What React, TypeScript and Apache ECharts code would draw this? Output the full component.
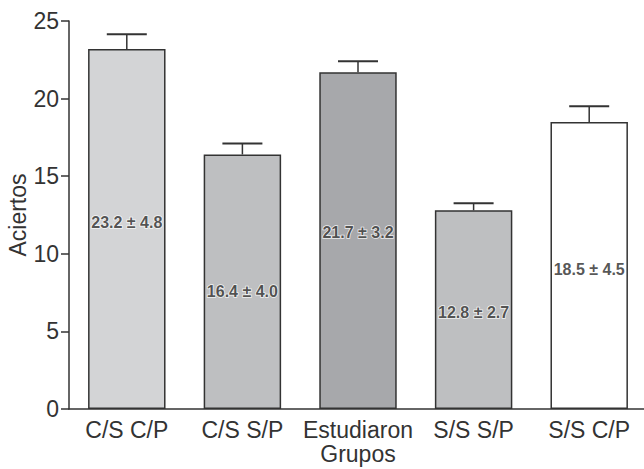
import React, { useEffect, useRef } from "react";
import * as echarts from "echarts";

const categories = ["C/S C/P", "C/S S/P", "Estudiaron", "S/S S/P", "S/S C/P"];
const means = [23.2, 16.4, 21.7, 12.8, 18.5];
const sds = [4.8, 4.0, 3.2, 2.7, 4.5];
const errs = [0.95, 0.7, 0.7, 0.45, 1.0];
const labelPos = [12.0, 7.6, 11.4, 6.2, 9.0];
const barColors = ["#d3d4d6", "#bebfc1", "#a7a8ab", "#bebfc1", "#ffffff"];
const yTicks = [0, 5, 10, 15, 20, 25];

const FONT = "'Liberation Sans', Arial, Helvetica, sans-serif";
const INK = "#333333";

export default function App() {
  const ref = useRef<HTMLDivElement>(null);
  useEffect(() => {
    if (!ref.current) return;
    const chart = echarts.init(ref.current, null, { renderer: "svg" });
    chart.setOption({
      animation: false,
      backgroundColor: "#ffffff",
      textStyle: { fontFamily: FONT },
      grid: {
        left: 69,
        top: 21,
        width: 578,
        height: 388,
        containLabel: false,
        outerBoundsMode: "none",
      },
      xAxis: {
        type: "category",
        data: categories,
        name: "Grupos",
        nameLocation: "middle",
        nameGap: 33,
        nameMoveOverlap: false,
        nameTextStyle: { fontSize: 23, color: INK, fontFamily: FONT },
        axisLine: { lineStyle: { color: INK, width: 1.5 } },
        axisTick: { alignWithLabel: true, length: 6, lineStyle: { color: INK, width: 1.5 } },
        axisLabel: { interval: 0, fontSize: 23, color: INK, margin: 9, fontFamily: FONT },
      },
      yAxis: {
        type: "value",
        min: yTicks[0],
        max: yTicks[yTicks.length - 1],
        interval: 5,
        name: "Aciertos",
        nameLocation: "middle",
        nameGap: 40,
        nameMoveOverlap: false,
        nameTextStyle: { fontSize: 23, color: INK, fontFamily: FONT },
        axisLine: { show: true, lineStyle: { color: INK, width: 1.5 } },
        axisTick: { show: true, length: 8, lineStyle: { color: INK, width: 1.5 } },
        axisLabel: { fontSize: 23, color: INK, margin: 10, fontFamily: FONT },
        splitLine: { show: false },
      },
      series: [
        {
          type: "bar",
          barCategoryGap: "33%",
          data: means.map((v, i) => ({
            value: v,
            itemStyle: { color: barColors[i], borderColor: INK, borderWidth: 1.5 },
          })),
          z: 2,
        },
        {
          type: "custom",
          data: means.map((v, i) => [i, v, errs[i]]),
          renderItem: (params: any, api: any) => {
            const x = api.value(0);
            const y = api.value(1);
            const e = api.value(2);
            const base = api.coord([x, y]);
            const top = api.coord([x, y + e]);
            return {
              type: "group",
              children: [
                {
                  type: "line",
                  shape: { x1: base[0], y1: base[1], x2: top[0], y2: top[1] },
                  style: { stroke: INK, lineWidth: 1.5 },
                },
                {
                  type: "line",
                  shape: { x1: top[0] - 20, y1: top[1], x2: top[0] + 20, y2: top[1] },
                  style: { stroke: INK, lineWidth: 2 },
                },
              ],
            };
          },
          z: 3,
        },
        {
          type: "scatter",
          symbolSize: 0,
          data: labelPos.map((p, i) => [i, p]),
          label: {
            show: true,
            position: "inside",
            formatter: (p: any) => `${means[p.dataIndex].toFixed(1)} ± ${sds[p.dataIndex].toFixed(1)}`,
            fontSize: 16,
            fontWeight: "bold",
            color: "#2a2a2a",
            fontFamily: FONT,
            textBorderColor: "#ffffff",
            textBorderWidth: 1.5,
          },
          z: 4,
        },
      ],
    });
    return () => chart.dispose();
  }, []);
  return (
    <div
      ref={ref}
      style={{ position: "absolute", left: 0, top: 0, width: 644, height: 469 }}
    />
  );
}
